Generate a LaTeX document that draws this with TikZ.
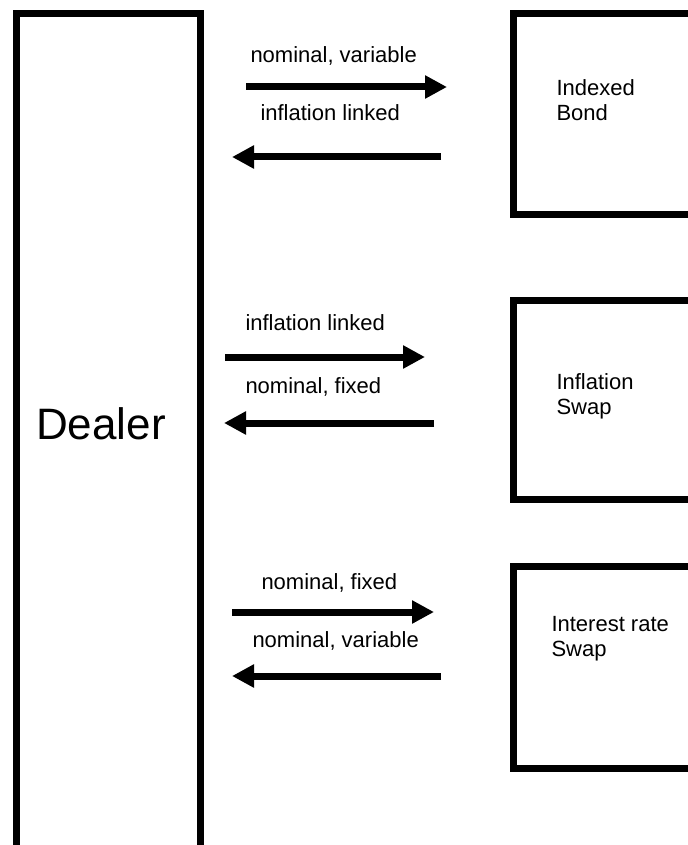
\documentclass[tikz,border=0pt]{standalone}
\usepackage{fontspec}
\setmainfont{Liberation Sans}
\usetikzlibrary{arrows.meta}

\tikzset{every picture/.style={line width=5.25pt}}
\tikzset{
  flow/.style={-{Triangle[length=16.5pt,width=16.5pt]}},
  lbl/.style={anchor=west,inner sep=0.75pt,font=\fontsize{16.5}{20}\selectfont},
  boxlbl/.style={anchor=west,inner sep=0.75pt,align=left,font=\fontsize{16.5}{18.75}\selectfont},
}

\begin{document}
\begin{tikzpicture}[x=0.75pt,y=0.75pt,yscale=-1,xscale=1]
\useasboundingbox (0,0) rectangle (688,845);
\clip (0,0) rectangle (688,845);

%Shape: Rectangle [id:dealer] 
\draw (16.5,13.5) rectangle (200.5,900) ;
%Shape: Rectangle [id:bond] 
\draw (513.5,13.5) rectangle (700,214.5) ;
%Shape: Rectangle [id:infswap] 
\draw (513.5,300.5) rectangle (700,499.5) ;
%Shape: Rectangle [id:irswap] 
\draw (513.5,566.5) rectangle (700,768.5) ;

%Straight Lines [id:bond]
\coordinate (b1s) at (246,87) ; \coordinate (b1e) at (447,87) ;
\coordinate (b2s) at (441,157) ; \coordinate (b2e) at (232,157) ;
\draw [flow] (b1s) -- (b1e) ;
\draw [flow] (b2s) -- (b2e) ;
%Straight Lines [id:infswap]
\coordinate (s1s) at (225,357) ; \coordinate (s1e) at (425,357) ;
\coordinate (s2s) at (434,423) ; \coordinate (s2e) at (224,423) ;
\draw [flow] (s1s) -- (s1e) ;
\draw [flow] (s2s) -- (s2e) ;
%Straight Lines [id:irswap]
\coordinate (r1s) at (232,612) ; \coordinate (r1e) at (434,612) ;
\coordinate (r2s) at (441,676) ; \coordinate (r2e) at (232,676) ;
\draw [flow] (r1s) -- (r1e) ;
\draw [flow] (r2s) -- (r2e) ;

% Text Node
\node (dealer) at (101,424) {\fontsize{33}{40}\selectfont Dealer};
% Text Node
\node [boxlbl] (bondtxt) at (552,100) {Indexed\\Bond};
% Text Node
\node [boxlbl] (infswaptxt) at (552,396) {Inflation\\Swap};
% Text Node
\node [boxlbl] (irswaptxt) at (547,639) {Interest rate\\Swap};

% Text Node
\node [lbl] (b1lbl) at (246,56) {nominal, variable};
% Text Node
\node [lbl] (b2lbl) at (256,113) {inflation linked};
% Text Node
\node [lbl] (s1lbl) at (241,323) {inflation linked};
% Text Node
\node [lbl] (s2lbl) at (241,387) {nominal, fixed};
% Text Node
\node [lbl] (r1lbl) at (257,583) {nominal, fixed};
% Text Node
\node [lbl] (r2lbl) at (248,641) {nominal, variable};
\end{tikzpicture}
\end{document}
